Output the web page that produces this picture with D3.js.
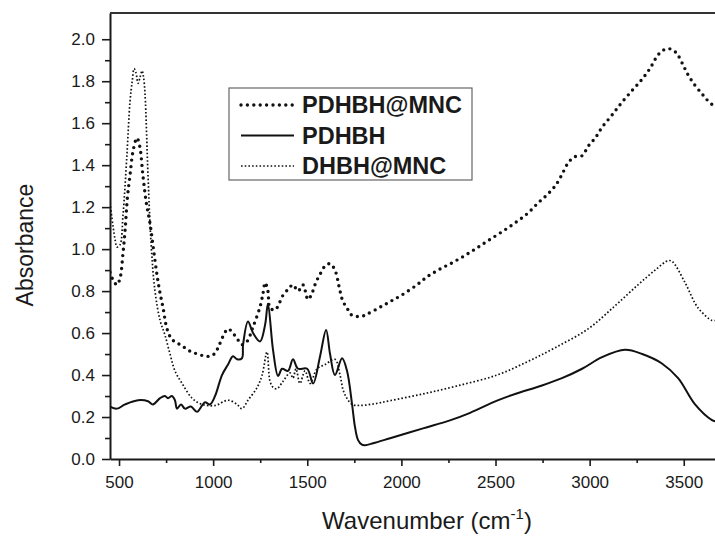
<!DOCTYPE html>
<meta charset="utf-8">
<head>
    <title>FTIR absorbance</title>
</head>

<style>
    body { margin: 0; background: #fff; }
    text { font-family: Arial, "Liberation Sans", sans-serif; fill: #1a1a1a; }
    .axis path, .axis line { stroke: #1a1a1a; }
    .axis path { stroke-width: 2px; }
    .axis line { stroke-width: 1.6px; }
    .axis text { font-size: 17px; }
    .series { fill: none; stroke: #111; }
    .legend text { font-size: 23.5px; font-weight: bold; }
</style>

<script src="https://d3js.org/d3.v7.min.js"></script>

<div id="chart"></div>

<script>

    // PDHBH@MNC (heavy dots)
    var pdhbhMncWn  = [452, 470, 489, 505, 521, 532, 545, 558, 575, 595, 610, 627, 645, 665, 683, 702, 718, 734, 755, 781, 815, 850, 885, 920, 955, 983, 1005, 1026, 1050, 1079, 1105, 1130, 1153, 1180, 1212, 1249, 1265, 1276, 1291, 1302, 1329, 1350, 1371, 1400, 1424, 1451, 1477, 1504, 1525, 1545, 1568, 1595, 1621, 1647, 1674, 1690, 1711, 1730, 1754, 1790, 1817, 1880, 1940, 2000, 2083, 2140, 2205, 2270, 2338, 2400, 2460, 2530, 2604, 2670, 2726, 2775, 2816, 2850, 2885, 2920, 2960, 2992, 3030, 3066, 3120, 3172, 3230, 3279, 3320, 3363, 3395, 3417, 3440, 3465, 3495, 3523, 3560, 3597, 3625, 3650, 3666];
    var pdhbhMncAbs = [0.89, 0.85, 0.83, 0.86, 0.98, 1.09, 1.25, 1.35, 1.47, 1.53, 1.49, 1.35, 1.22, 1.12, 1.00, 0.875, 0.79, 0.72, 0.62, 0.57, 0.55, 0.53, 0.51, 0.50, 0.49, 0.49, 0.50, 0.53, 0.58, 0.62, 0.60, 0.57, 0.545, 0.56, 0.63, 0.725, 0.79, 0.84, 0.80, 0.72, 0.71, 0.74, 0.78, 0.81, 0.83, 0.80, 0.83, 0.76, 0.79, 0.84, 0.88, 0.92, 0.93, 0.90, 0.80, 0.75, 0.72, 0.69, 0.68, 0.68, 0.69, 0.72, 0.75, 0.78, 0.83, 0.87, 0.905, 0.935, 0.97, 1.005, 1.04, 1.08, 1.125, 1.17, 1.22, 1.26, 1.30, 1.35, 1.41, 1.44, 1.445, 1.49, 1.53, 1.58, 1.64, 1.70, 1.76, 1.81, 1.86, 1.925, 1.95, 1.955, 1.95, 1.93, 1.88, 1.83, 1.78, 1.74, 1.71, 1.69, 1.69];

    // PDHBH (solid)
    var pdhbhWn  = [452, 489, 532, 601, 654, 680, 718, 744, 760, 781, 797, 808, 829, 850, 882, 914, 941, 957, 983, 1010, 1047, 1079, 1105, 1127, 1153, 1159, 1185, 1212, 1249, 1276, 1291, 1318, 1345, 1366, 1398, 1424, 1451, 1499, 1531, 1568, 1600, 1621, 1647, 1685, 1711, 1738, 1754, 1770, 1790, 1807, 1850, 1940, 2115, 2258, 2365, 2508, 2604, 2747, 2853, 2960, 3066, 3188, 3279, 3384, 3470, 3560, 3650, 3666];
    var pdhbhAbs = [0.25, 0.24, 0.26, 0.28, 0.275, 0.26, 0.29, 0.30, 0.29, 0.30, 0.28, 0.24, 0.26, 0.24, 0.25, 0.225, 0.255, 0.27, 0.26, 0.30, 0.40, 0.45, 0.49, 0.475, 0.48, 0.545, 0.655, 0.60, 0.56, 0.64, 0.74, 0.52, 0.395, 0.43, 0.42, 0.475, 0.43, 0.43, 0.36, 0.49, 0.615, 0.50, 0.40, 0.48, 0.42, 0.26, 0.15, 0.09, 0.068, 0.066, 0.075, 0.099, 0.146, 0.184, 0.22, 0.278, 0.31, 0.35, 0.385, 0.43, 0.485, 0.52, 0.50, 0.455, 0.385, 0.26, 0.185, 0.18];

    // DHBH@MNC (fine dots)
    var dhbhMncWn  = [452, 468, 480, 489, 505, 521, 542, 558, 570, 580, 590, 601, 612, 622, 630, 638, 654, 670, 691, 718, 744, 771, 797, 835, 888, 941, 1010, 1079, 1127, 1153, 1185, 1233, 1260, 1286, 1302, 1320, 1339, 1371, 1408, 1424, 1440, 1461, 1488, 1515, 1552, 1595, 1647, 1674, 1690, 1710, 1738, 1780, 1850, 1940, 2115, 2295, 2508, 2673, 2816, 2992, 3135, 3257, 3348, 3417, 3440, 3507, 3576, 3650, 3666];
    var dhbhMncAbs = [1.22, 1.11, 1.04, 1.01, 1.02, 1.16, 1.45, 1.70, 1.80, 1.86, 1.84, 1.79, 1.82, 1.85, 1.82, 1.74, 1.35, 1.03, 0.80, 0.66, 0.59, 0.50, 0.42, 0.36, 0.29, 0.26, 0.255, 0.28, 0.26, 0.24, 0.28, 0.34, 0.40, 0.51, 0.37, 0.34, 0.335, 0.37, 0.41, 0.385, 0.43, 0.36, 0.42, 0.36, 0.43, 0.45, 0.475, 0.40, 0.33, 0.29, 0.26, 0.255, 0.262, 0.278, 0.31, 0.348, 0.40, 0.465, 0.53, 0.62, 0.73, 0.83, 0.90, 0.945, 0.94, 0.84, 0.72, 0.66, 0.66];

    var legendNames = ["PDHBH@MNC", "PDHBH", "DHBH@MNC"];
    var xTicks = [500, 1000, 1500, 2000, 2500, 3000, 3500];
    var xMinorTicks = [750, 1250, 1750, 2250, 2750, 3250];
    var yTicks = [0, 0.2, 0.4, 0.6, 0.8, 1.0, 1.2, 1.4, 1.6, 1.8, 2.0];
    var yMinorTicks = [0.1, 0.3, 0.5, 0.7, 0.9, 1.1, 1.3, 1.5, 1.7, 1.9];

    var W = 715, H = 538;
    var margin = { top: 13, right: 0, bottom: 79, left: 110 },
        width = W - margin.left - margin.right,
        height = H - margin.top - margin.bottom;

    var svg = d3.select("#chart")
        .append("svg")
        .attr("width", W)
        .attr("height", H)
        .append("g")
        .attr("transform", "translate(" + margin.left + "," + margin.top + ")");

    var x = d3.scaleLinear().domain([452, 3666]).range([0, width]);
    var y = d3.scaleLinear().domain([0, 2.125]).range([height, 0]);

    svg.append("clipPath").attr("id", "plotClip")
        .append("rect").attr("width", width).attr("height", height);

    // minor ticks first, then major axes
    svg.append("g")
        .attr("class", "axis")
        .attr("transform", "translate(0," + height + ")")
        .call(d3.axisBottom(x).tickValues(xMinorTicks).tickSize(4).tickFormat(""))
        .select(".domain").remove();
    svg.append("g")
        .attr("class", "axis")
        .call(d3.axisLeft(y).tickValues(yMinorTicks).tickSize(5).tickFormat(""))
        .select(".domain").remove();

    svg.append("g")
        .attr("class", "axis")
        .attr("transform", "translate(0," + height + ")")
        .call(d3.axisBottom(x).tickValues(xTicks).tickSize(7).tickSizeOuter(0).tickPadding(10).tickFormat(d3.format("d")));
    svg.append("g")
        .attr("class", "axis")
        .call(d3.axisLeft(y).tickValues(yTicks).tickSize(8).tickSizeOuter(0).tickPadding(7).tickFormat(d3.format(".1f")));

    // top frame line
    svg.append("line")
        .attr("x1", 0).attr("x2", width)
        .attr("y1", 0).attr("y2", 0)
        .attr("stroke", "#333")
        .attr("stroke-width", 2);

    // series
    var styles = [
        { w: 3.4, dash: "0 6.4", cap: "round" },
        { w: 2, dash: null, cap: "butt" },
        { w: 1.7, dash: "1.6 2.1", cap: "butt" }
    ];
    var series = [
        d3.zip(pdhbhMncWn, pdhbhMncAbs),
        d3.zip(pdhbhWn, pdhbhAbs),
        d3.zip(dhbhMncWn, dhbhMncAbs)
    ];

    var line = d3.line()
        .x(function (d) { return x(d[0]); })
        .y(function (d) { return y(d[1]); })
        .curve(d3.curveCatmullRom.alpha(0.5));

    var plot = svg.append("g").attr("clip-path", "url(#plotClip)");
    series.forEach(function (s, i) {
        plot.append("path")
            .datum(s)
            .attr("class", "series")
            .attr("d", line)
            .attr("stroke-width", styles[i].w)
            .attr("stroke-dasharray", styles[i].dash)
            .attr("stroke-linecap", styles[i].cap);
    });

    // axis titles
    svg.append("text")
        .attr("transform", "rotate(-90)")
        .attr("x", -232)
        .attr("y", -77)
        .style("text-anchor", "middle")
        .style("font-size", "23px")
        .text("Absorbance");

    var xt = svg.append("text")
        .attr("x", 317)
        .attr("y", height + 70)
        .style("text-anchor", "middle")
        .style("font-size", "24px");
    xt.append("tspan").text("Wavenumber (cm");
    xt.append("tspan").attr("dy", -10).style("font-size", "15px").text("-1");
    xt.append("tspan").attr("dy", 10).text(")");

    // legend
    var legend = svg.append("g").attr("class", "legend")
        .attr("transform", "translate(" + (229 - margin.left) + "," + (88 - margin.top) + ")");
    legend.append("rect")
        .attr("width", 243).attr("height", 92)
        .attr("fill", "#fff")
        .attr("stroke", "#666")
        .attr("stroke-width", 1.2);
    legendNames.forEach(function (name, i) {
        var cy = 17 + i * 30.5;
        legend.append("line")
            .attr("x1", 12).attr("x2", 65)
            .attr("y1", cy).attr("y2", cy)
            .attr("stroke", "#111")
            .attr("stroke-width", styles[i].w)
            .attr("stroke-dasharray", styles[i].dash)
            .attr("stroke-linecap", styles[i].cap);
        legend.append("text")
            .attr("x", 73)
            .attr("y", cy + 8)
            .text(name);
    });

</script>
